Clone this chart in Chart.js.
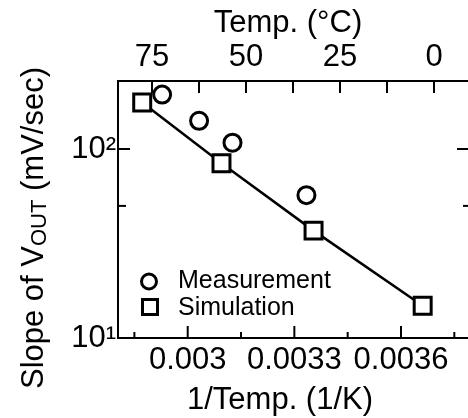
<!DOCTYPE html>
<html><head><meta charset="utf-8">
<script src="https://cdn.jsdelivr.net/npm/chart.js@4.4.0/dist/chart.umd.min.js"></script>
<style>html,body{margin:0;padding:0;background:#fff;} #wrap{width:468px;height:418px;position:relative;}</style>
</head><body><div id="wrap"><canvas id="c" width="468" height="418"></canvas></div>
<script>
// ---- data ----
const measX = [0.002928, 0.003032, 0.003126, 0.003334];
const measY = [194, 141, 108, 57];
const simX = [0.002872, 0.003095, 0.003354, 0.003661];
const simY = [176, 84, 37, 14.8];
const seriesNames = ['Measurement', 'Simulation'];

// ---- ticks ----
const xTickValues = [0.003, 0.0033, 0.0036];
const xTickLabels = ['0.003', '0.0033', '0.0036'];
const xMinorTicks = [0.00285, 0.00315, 0.00345, 0.00375];
const tempTickValues = [75, 50, 25, 0];
const tempTickLabels = ['75', '50', '25', '0'];
const tempMinorTicks = [62.5, 37.5, 12.5];
const yTickValues = [10, 100];
const yTickLabels = ['10\u00B9', '10\u00B2'];
const yMinorTicks = [50];

// ---- titles ----
const xTitle = '1/Temp. (1/K)';
const topTitle = 'Temp. (\u00B0C)';
const yTitleMain = 'Slope of V';
const yTitleSub = 'OUT';
const yTitleEnd = ' (mV/sec)';

const FONT = "'Liberation Sans', Arial, Helvetica, sans-serif";
Chart.defaults.font.family = FONT;
Chart.defaults.color = '#000';

const decor = {
  id: 'decor',
  afterDraw(chart) {
    const ctx = chart.ctx;
    const a = chart.chartArea;
    const sx = chart.scales.x, st = chart.scales.x2, sy = chart.scales.y;
    ctx.save();
    ctx.strokeStyle = '#000';
    ctx.lineWidth = 2;
    const line = (x1, y1, x2, y2) => { ctx.beginPath(); ctx.moveTo(x1, y1); ctx.lineTo(x2, y2); ctx.stroke(); };
    xTickValues.forEach(v => { const x = sx.getPixelForValue(v); line(x, a.bottom, x, a.bottom - 12); });
    xMinorTicks.forEach(v => { const x = sx.getPixelForValue(v); line(x, a.bottom, x, a.bottom - 6); });
    tempTickValues.concat(tempMinorTicks).forEach(v => { const x = st.getPixelForValue(v); line(x, a.top, x, a.top + 12); });
    yTickValues.forEach(v => { const y = sy.getPixelForValue(v); if (y < a.bottom - 2) { line(a.left, y, a.left + 12, y); line(a.right, y, a.right - 11, y); } });
    yMinorTicks.forEach(v => { const y = sy.getPixelForValue(v); line(a.left, y, a.left + 8, y); line(a.right, y, a.right - 5, y); });

    // titles
    ctx.fillStyle = '#000';
    ctx.textBaseline = 'alphabetic';
    ctx.textAlign = 'center';
    ctx.font = '31px ' + FONT;
    ctx.fillText(topTitle, 288, 32);
    ctx.fillText(xTitle, 280, 409);

    // y title with subscript
    ctx.save();
    ctx.translate(43, 228);
    ctx.rotate(-Math.PI / 2);
    ctx.textAlign = 'left';
    ctx.font = '31px ' + FONT;
    const w1 = ctx.measureText(yTitleMain).width;
    const w3 = ctx.measureText(yTitleEnd).width;
    ctx.font = '22px ' + FONT;
    const w2 = ctx.measureText(yTitleSub).width;
    let x0 = -(w1 + w2 + w3) / 2;
    ctx.font = '31px ' + FONT;
    ctx.fillText(yTitleMain, x0, 0);
    ctx.font = '22px ' + FONT;
    ctx.fillText(yTitleSub, x0 + w1, 3);
    ctx.font = '31px ' + FONT;
    ctx.fillText(yTitleEnd, x0 + w1 + w2, 0);
    ctx.restore();

    // legend
    ctx.lineWidth = 3;
    ctx.fillStyle = '#fff';
    ctx.beginPath(); ctx.arc(149, 281.5, 7.5, 0, Math.PI * 2); ctx.fill(); ctx.stroke();
    ctx.beginPath(); ctx.rect(142.5, 299.5, 15, 15); ctx.fill(); ctx.stroke();
    ctx.fillStyle = '#000';
    ctx.textAlign = 'left';
    ctx.font = '25px ' + FONT;
    ctx.fillText(seriesNames[0], 178, 288);
    ctx.fillText(seriesNames[1], 178, 315);
    ctx.restore();
  }
};

const zeroPad = s => { s.paddingLeft = 0; s.paddingRight = 0; s.paddingTop = 0; s.paddingBottom = 0; };

new Chart(document.getElementById('c'), {
  type: 'scatter',
  data: {
    datasets: [
      {
        label: seriesNames[0],
        data: measX.map((x, i) => ({ x, y: measY[i] })),
        pointStyle: 'circle', pointRadius: 8.5, pointHoverRadius: 8.5,
        pointBorderWidth: 3, pointBorderColor: '#000', pointBackgroundColor: '#fff',
        showLine: false, clip: false
      },
      {
        label: seriesNames[1],
        data: simX.map((x, i) => ({ x, y: simY[i] })),
        pointStyle: 'rect', pointRadius: 12, pointHoverRadius: 12,
        pointBorderWidth: 3, pointBorderColor: '#000', pointBackgroundColor: '#fff',
        showLine: true, borderColor: '#000', borderWidth: 2.5, tension: 0, clip: false
      }
    ]
  },
  options: {
    responsive: false,
    devicePixelRatio: 1,
    animation: false,
    events: [],
    layout: { padding: 0, autoPadding: false },
    plugins: { legend: { display: false }, tooltip: { enabled: false } },
    scales: {
      x: {
        type: 'linear', position: 'bottom',
        min: 0.0028039, max: 0.0037885,
        grid: { display: false, drawTicks: false },
        border: { display: true, color: '#000', width: 2 },
        afterBuildTicks: s => { s.ticks = xTickValues.map(v => ({ value: v })); },
        ticks: { padding: 4, font: { size: 31 }, color: '#000', maxRotation: 0, autoSkip: false,
          callback: (v, i) => xTickLabels[i] },
        afterFit: s => { s.height = 80; zeroPad(s); }
      },
      x2: {
        type: 'linear', position: 'top', reverse: true,
        min: -9.04, max: 84.04,
        grid: { display: false, drawTicks: false },
        border: { display: true, color: '#000', width: 2 },
        afterBuildTicks: s => { s.ticks = tempTickValues.map(v => ({ value: v })); },
        ticks: { padding: 5, font: { size: 31 }, color: '#000', maxRotation: 0, autoSkip: false,
          callback: (v, i) => tempTickLabels[i] },
        afterFit: s => { s.height = 81; zeroPad(s); }
      },
      y: {
        type: 'logarithmic', position: 'left',
        min: 10, max: 229,
        grid: { display: false, drawTicks: false },
        border: { display: true, color: '#000', width: 2 },
        afterBuildTicks: s => { s.ticks = yTickValues.map(v => ({ value: v })); },
        ticks: { padding: 2, font: { size: 31 }, color: '#000', autoSkip: false,
          callback: (v, i) => yTickLabels[i] },
        afterFit: s => { s.width = 118; zeroPad(s); }
      }
    }
  },
  plugins: [decor]
});
</script>
</body></html>
